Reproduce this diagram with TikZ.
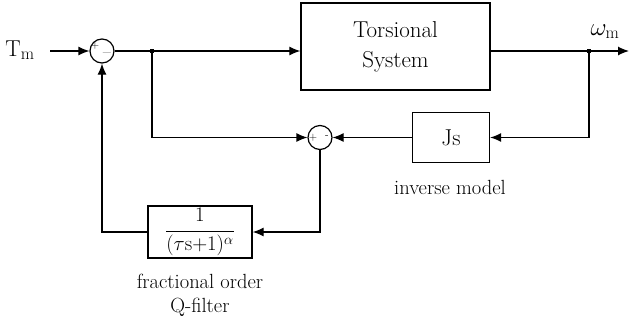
\documentclass[tikz,border=0pt]{standalone}
\usetikzlibrary{arrows.meta,positioning,calc}
\begin{document}
\begin{tikzpicture}[x=1pt,y=-1pt,line width=1.2pt,
  blk/.style={draw,rectangle,inner sep=0pt,line width=1.3pt},
  sumc/.style={draw,circle,minimum size=24pt,inner sep=0pt,line width=1.2pt},
  arr/.style={-{Latex[length=11pt,width=9pt]}},
  bpt/.style={fill,rectangle,minimum size=4.5pt,inner sep=0pt},
  big/.style={font=\fontsize{23}{30}\selectfont},
  captxt/.style={font=\fontsize{20.5}{24}\selectfont},
  sgn/.style={font=\fontsize{11}{11}\selectfont,inner sep=0pt}]
\useasboundingbox (0,0) rectangle (637,327);
\node[big,anchor=base] (tm) at (20,56) {T$_{\mathrm{m}}$};
\coordinate (tmstart) at (50,51);
\node[sumc] (s1) at (102,51) {};
\node[sgn] (s1p) at (95,46) {+};
\node[sgn] (s1m) at (107,52) {\_};
\node[bpt] (b1) at (152,51) {};
\node[blk,big,minimum width=189pt,minimum height=87pt,align=center] (tsys) at (395.5,46.5) {Torsional\\System};
\node[bpt] (b2) at (589,51) {};
\coordinate (out) at (629,51);
\node[big,anchor=base] (om) at (605,35) {$\omega_{\mathrm{m}}$};
\node[blk,big,minimum width=77pt,minimum height=50pt] (js) at (451,137.5) {Js};
\node[sumc] (s2) at (320,137.5) {};
\node[sgn] (s2p) at (313,137.5) {+};
\node[sgn] (s2m) at (327,137) {-};
\node[captxt] (inv) at (450,187) {inverse model};
\node[blk,minimum width=104pt,minimum height=52pt,font=\fontsize{21.5}{24}\selectfont] (filt) at (200,232) {$\displaystyle\frac{1}{(\tau\mathrm{s}{+}1)^{\alpha}}$};
\node[captxt,align=center] (qf) at (200,295) {fractional order\\Q-filter};

\draw[arr] (tmstart) -- (s1.west);
\draw[arr] (s1.east) -- (b1.center) -- (b1 -| tsys.west);
\draw[arr] (b2 -| tsys.east) -- (b2.center) -- (out);
\draw[arr] (b2.center) |- (js.east);
\draw[arr] (js.west) -- (s2.east);
\draw[arr] (b1.center) |- (s2.west);
\draw[arr] (s2.south) |- (filt.east);
\draw[arr] (filt.west) -| (s1.south);
\end{tikzpicture}
\end{document}
